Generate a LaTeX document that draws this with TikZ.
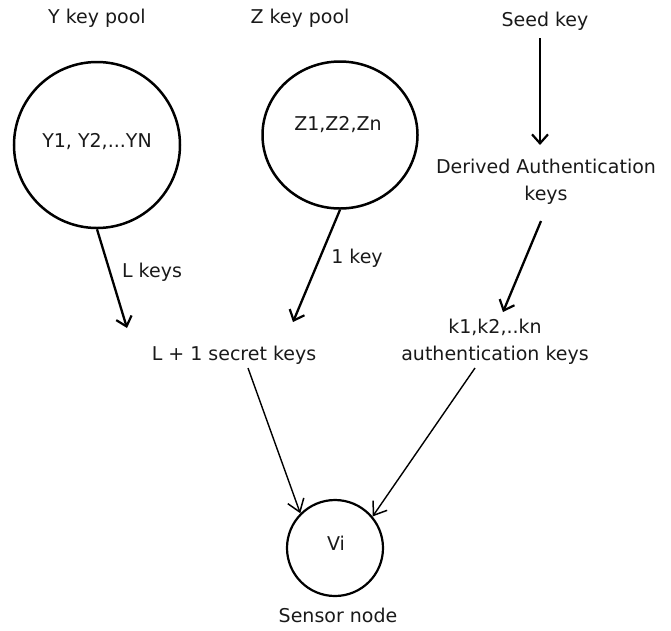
\documentclass[tikz,border=0pt]{standalone}
\usepackage{fontspec}
\setmainfont{DejaVu Sans}
\usetikzlibrary{arrows.meta,shapes.geometric}

\tikzset{
  lbl/.style={inner sep=0pt, text=black!90, font=\fontsize{19}{27}\selectfont, align=center},
  pool/.style={draw=black, line width=2.5pt, inner sep=0pt},
  thickarrow/.style={line width=2.3pt, -{Straight Barb[length=9pt,width=16pt,line width=2.2pt]}},
  thinarrow/.style={line width=1.4pt, -{Straight Barb[length=12pt,width=17pt,line width=1.5pt]}}
}

\begin{document}
\begin{tikzpicture}[x=1pt,y=-1pt]
\useasboundingbox (0,0) rectangle (671,630);

% key pools
\node[lbl] (ytitle) at (97,18) {Y key pool};
\node[pool, circle, minimum size=166pt] (ypool) at (97,145) {};
\node[lbl] (ylist) at (97,142) {Y1, Y2,...YN};

\node[lbl] (ztitle) at (300,18) {Z key pool};
\node[pool, ellipse, minimum width=155pt, minimum height=147pt] (zpool) at (340,135) {};
\node[lbl] (zlist) at (338,125) {Z1,Z2,Zn};

% seed key chain
\node[lbl] (seed) at (545,21) {Seed key};
\node[lbl] (derived) at (546,182) {Derived Authentication\\keys};
\node[lbl] (authkeys) at (495,342) {k1,k2,..kn\\authentication keys};

% combined keys and sensor node
\node[lbl] (secret) at (234,355) {L + 1 secret keys};
\node[pool, circle, minimum size=96pt, line width=2.2pt] (vi) at (335,548) {};
\node[lbl] (vilabel) at (336,543) {Vi};
\node[lbl] (sensor) at (338,615) {Sensor node};

% arrow end points
\coordinate (seedstart) at (540,38);
\coordinate (seedend) at (540,145);
\coordinate (derstart) at (541,221);
\coordinate (derend) at (503,312);
\coordinate (yend) at (127,328);
\coordinate (zend) at (293,322);
\coordinate (secstart) at (248,368);
\coordinate (authstart) at (475,368);

\draw[thickarrow] (ypool.south) -- (yend);
\draw[thickarrow] (zpool.south) -- (zend);
\draw[thickarrow] (seedstart) -- (seedend);
\draw[thickarrow] (derstart) -- (derend);

\node[lbl] (lkeys) at (152,272) {L keys};
\node[lbl] (onekey) at (357,258) {1 key};

\draw[thinarrow] (secstart) -- (vi.north west);
\draw[thinarrow] (authstart) -- (vi.40);
\end{tikzpicture}
\end{document}
